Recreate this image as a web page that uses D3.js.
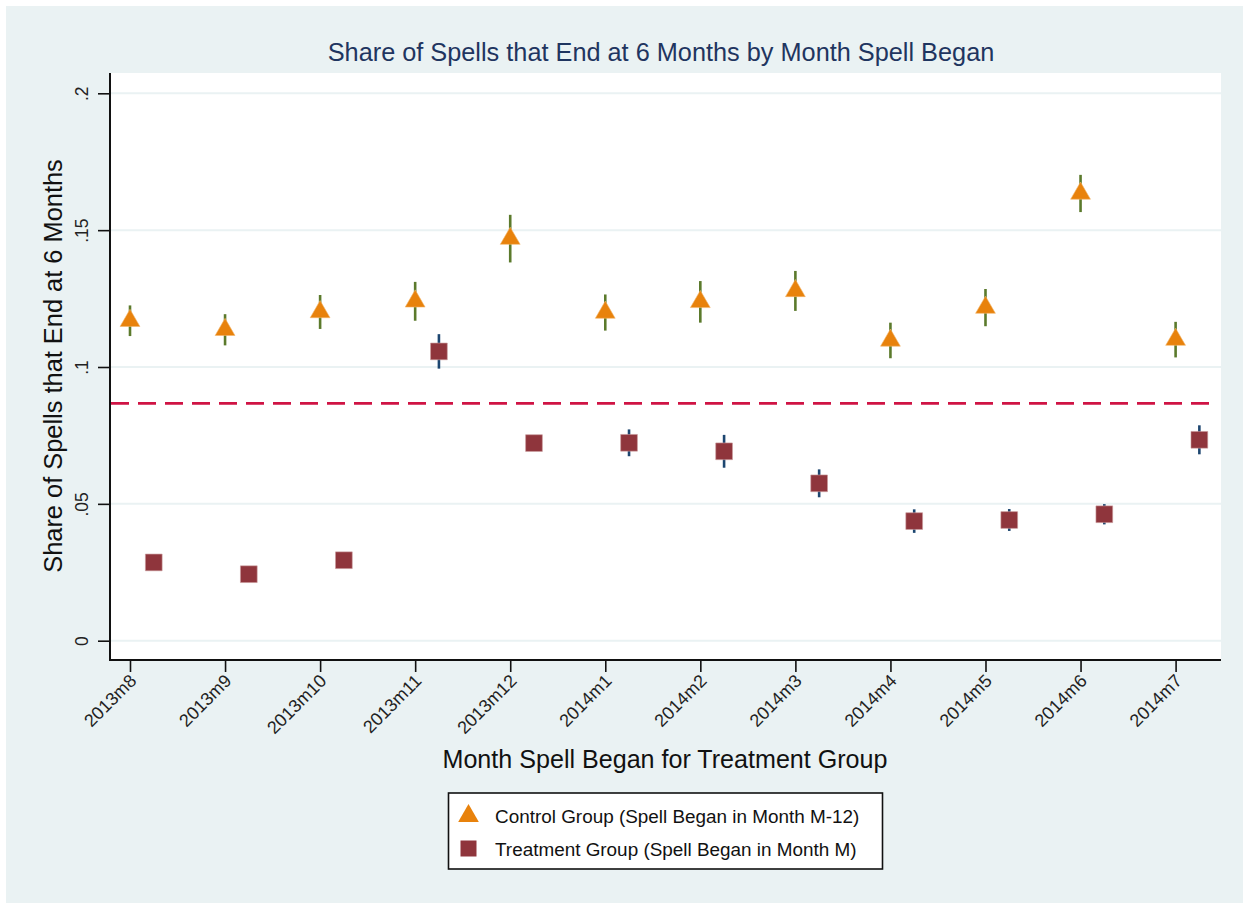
<!DOCTYPE html>
<html>
<head>
<meta charset="utf-8">
<script src="https://cdn.jsdelivr.net/npm/d3@7"></script>
<style>
  html, body { margin: 0; padding: 0; background: #ffffff; }
  svg { display: block; font-family: "Liberation Sans", Arial, Helvetica, sans-serif; }
</style>
</head>
<body>
<svg id="chart" width="1249" height="909"></svg>
<script>
// Months in which the treatment-group spells began
const months = ["2013m8","2013m9","2013m10","2013m11","2013m12","2014m1",
                "2014m2","2014m3","2014m4","2014m5","2014m6","2014m7"];

// Control group (spell began in month M-12): share ending at 6 months and CI bounds
const controlShare = [0.1169,0.1136,0.1201,0.1240,0.1469,0.1199,0.1238,0.1278,0.1097,0.1217,0.1634,0.1100];
const controlLow   = [0.1113,0.1079,0.1139,0.1169,0.1382,0.1133,0.1162,0.1205,0.1032,0.1149,0.1566,0.1035];
const controlHigh  = [0.1225,0.1193,0.1263,0.1311,0.1556,0.1265,0.1314,0.1351,0.1162,0.1285,0.1702,0.1165];

// Treatment group (spell began in month M): share ending at 6 months and CI bounds
const treatShare = [0.0286,0.0243,0.0294,0.1057,0.0722,0.0723,0.0692,0.0575,0.0437,0.0441,0.0462,0.0734];
const treatLow   = [0.0264,0.0221,0.0272,0.0994,0.0694,0.0674,0.0632,0.0524,0.0394,0.0401,0.0425,0.0681];
const treatHigh  = [0.0308,0.0265,0.0316,0.1120,0.0750,0.0772,0.0752,0.0626,0.0480,0.0481,0.0499,0.0787];

// Reference level drawn as a dashed line
const referenceLevel = [0.0867];

const yTicks = [0, 0.05, 0.1, 0.15, 0.2];
const yTickLabels = ["0", ".05", ".1", ".15", ".2"];

const legendLabels = ["Control Group (Spell Began in Month M-12)",
                      "Treatment Group (Spell Began in Month M)"];

const titleText = "Share of Spells that End at 6 Months by Month Spell Began";
const yTitle = "Share of Spells that End at 6 Months";
const xTitle = "Month Spell Began for Treatment Group";

const treatOffset = 0.25; // treatment markers sit a quarter month to the right

const colors = {
  page: "#eaf2f3",
  grid: "#eaf2f3",
  title: "#1f3560",
  control: "#e8820c",
  controlCI: "#5b7a2c",
  treat: "#8f353c",
  treatCI: "#1d4670",
  ref: "#cf1344"
};

const svg = d3.select("#chart");

// Outer graph region
svg.append("rect").attr("x", 6).attr("y", 6).attr("width", 1237).attr("height", 897)
  .attr("fill", colors.page);

// Plot region
const plot = { left: 110, right: 1221, top: 73, bottom: 660 };
svg.append("rect")
  .attr("x", plot.left).attr("y", plot.top)
  .attr("width", plot.right - plot.left).attr("height", plot.bottom - plot.top)
  .attr("fill", "#ffffff");

const x = d3.scaleLinear().domain([0, 11]).range([130, 1175.6]);
const y = d3.scaleLinear().domain([0, 0.2]).range([640.7, 93.3]);

// Horizontal grid lines
svg.append("g").selectAll("line").data(yTicks).join("line")
  .attr("x1", plot.left).attr("x2", plot.right)
  .attr("y1", d => y(d)).attr("y2", d => y(d))
  .attr("stroke", colors.grid).attr("stroke-width", 2);

// Y axis
const yAxis = d3.axisLeft(y).tickValues(yTicks)
  .tickFormat((d, i) => yTickLabels[i]).tickSize(12).tickSizeOuter(0);
const gy = svg.append("g").attr("transform", `translate(${plot.left},0)`).call(yAxis);
gy.select(".domain").remove();
gy.append("line").attr("x1", 0).attr("x2", 0).attr("y1", plot.top).attr("y2", plot.bottom + 1)
  .attr("stroke", "#111").attr("stroke-width", 2);
gy.selectAll(".tick line").attr("stroke", "#111").attr("stroke-width", 1.6);
gy.selectAll(".tick text")
  .attr("x", 0).attr("dy", 0)
  .attr("transform", "translate(-22,0) rotate(-90)")
  .attr("text-anchor", "middle")
  .attr("font-size", 17.5).attr("fill", "#222");

// X axis
const xAxis = d3.axisBottom(x).tickValues(d3.range(months.length))
  .tickFormat(i => months[i]).tickSize(12).tickSizeOuter(0);
const gx = svg.append("g").attr("transform", `translate(0,${plot.bottom})`).call(xAxis);
gx.select(".domain").remove();
gx.append("line").attr("x1", plot.left - 1).attr("x2", plot.right).attr("y1", 0).attr("y2", 0)
  .attr("stroke", "#111").attr("stroke-width", 2);
gx.selectAll(".tick line").attr("stroke", "#111").attr("stroke-width", 1.6);
gx.selectAll(".tick text")
  .attr("y", 0).attr("dy", 0)
  .attr("transform", "translate(7,22) rotate(-45)")
  .attr("text-anchor", "end")
  .attr("font-size", 18).attr("fill", "#222");

// Dashed reference line
svg.append("g").selectAll("line").data(referenceLevel).join("line")
  .attr("x1", plot.left + 1).attr("x2", plot.right - 4)
  .attr("y1", d => y(d)).attr("y2", d => y(d))
  .attr("stroke", colors.ref).attr("stroke-width", 2.6)
  .attr("stroke-dasharray", "18,9");

// Confidence intervals
svg.append("g").selectAll("line").data(months).join("line")
  .attr("x1", (d, i) => x(i)).attr("x2", (d, i) => x(i))
  .attr("y1", (d, i) => y(controlLow[i])).attr("y2", (d, i) => y(controlHigh[i]))
  .attr("stroke", colors.controlCI).attr("stroke-width", 2.6);

svg.append("g").selectAll("line").data(months).join("line")
  .attr("x1", (d, i) => x(i + treatOffset)).attr("x2", (d, i) => x(i + treatOffset))
  .attr("y1", (d, i) => y(treatLow[i])).attr("y2", (d, i) => y(treatHigh[i]))
  .attr("stroke", colors.treatCI).attr("stroke-width", 2.6);

// Markers
const tri = d3.symbol().type(d3.symbolTriangle).size(170);
const sq = d3.symbol().type(d3.symbolSquare).size(280);

svg.append("g").selectAll("path").data(months).join("path")
  .attr("d", tri)
  .attr("transform", (d, i) => `translate(${x(i)},${y(controlShare[i])})`)
  .attr("fill", colors.control).attr("stroke", "#f3b56a").attr("stroke-width", 0.6);

svg.append("g").selectAll("path").data(months).join("path")
  .attr("d", sq)
  .attr("transform", (d, i) => `translate(${x(i + treatOffset)},${y(treatShare[i])})`)
  .attr("fill", colors.treat).attr("stroke", "#c99a9c").attr("stroke-width", 0.6);

// Titles
svg.append("text").attr("x", 661).attr("y", 61).attr("text-anchor", "middle")
  .attr("font-size", 25.3).attr("fill", colors.title).text(titleText);

svg.append("text").attr("transform", "translate(62,366) rotate(-90)")
  .attr("text-anchor", "middle").attr("font-size", 25.4).attr("fill", "#111").text(yTitle);

svg.append("text").attr("x", 665).attr("y", 768).attr("text-anchor", "middle")
  .attr("font-size", 25.1).attr("fill", "#111").text(xTitle);

// Legend
const legend = svg.append("g");
legend.append("rect").attr("x", 448.5).attr("y", 793).attr("width", 434).attr("height", 76)
  .attr("fill", "#ffffff").attr("stroke", "#111").attr("stroke-width", 1.6);
legend.append("path").attr("d", d3.symbol().type(d3.symbolTriangle).size(185))
  .attr("transform", "translate(468.5,816)").attr("fill", colors.control);
legend.append("path").attr("d", d3.symbol().type(d3.symbolSquare).size(256))
  .attr("transform", "translate(468.5,848.5)").attr("fill", colors.treat);
legend.selectAll("text").data(legendLabels).join("text")
  .attr("x", 495).attr("y", (d, i) => 823 + i * 33)
  .attr("font-size", 18.9).attr("fill", "#111").text(d => d);
</script>
</body>
</html>
